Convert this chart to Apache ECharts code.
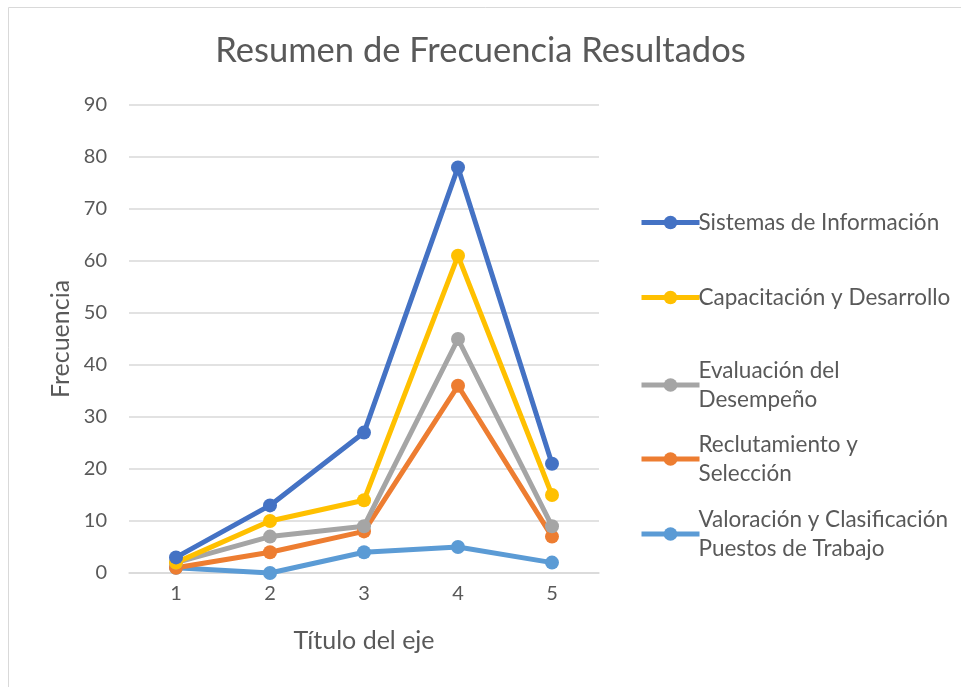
<!DOCTYPE html>
<html><head><meta charset="utf-8">
<script src="https://cdn.jsdelivr.net/npm/echarts@6/dist/echarts.min.js"></script>
<style>html,body{margin:0;padding:0;background:#fff}#c{width:961px;height:687px}</style>
</head><body><div id="c"></div>
<script>
const categories = ['1','2','3','4','5'];
const seriesNames = ['Sistemas de Información','Capacitación y Desarrollo','Evaluación del\nDesempeño','Reclutamiento y\nSelección','Valoración y Clasificación\nPuestos de Trabajo'];
const sistemas = [3, 13, 27, 78, 21];
const capacitacion = [2, 10, 14, 61, 15];
const evaluacion = [2, 7, 9, 45, 9];
const reclutamiento = [1, 4, 8, 36, 7];
const valoracion = [1, 0, 4, 5, 2];
const colors = ['#4472C4','#FFC000','#A5A5A5','#ED7D31','#5B9BD5'];
const values = [sistemas, capacitacion, evaluacion, reclutamiento, valoracion];
const legendTops = [203, 278, 351, 425, 500];

const font = "Lato, 'Open Sans', sans-serif";
const chart = echarts.init(document.getElementById('c'));
const series = [];
for (let i = values.length - 1; i >= 0; i--) {
  series.push({
    name: seriesNames[i], type: 'line', data: values[i],
    symbol: 'circle', symbolSize: 14,
    lineStyle: {width: 5, color: colors[i]},
    itemStyle: {color: colors[i]},
    emphasis: {disabled: true}, animation: false
  });
}
chart.setOption({
  animation: false,
  title: {text: 'Resumen de Frecuencia Resultados', left: 'center', top: 28,
    textStyle: {fontFamily: font, fontSize: 34.5, fontWeight: 'normal', color: '#595959'}},
  graphic: [{type: 'rect', shape: {x: 8.5, y: 7.5, width: 960, height: 690},
    style: {fill: null, stroke: '#D9D9D9', lineWidth: 1}, silent: true}],
  legend: seriesNames.map((n, i) => ({
    data: [n], orient: 'vertical', left: 634, top: legendTops[i],
    itemWidth: 58, itemHeight: 17, itemGap: 0,
    lineStyle: {width: 5},
    textStyle: {fontFamily: font, fontSize: 22.5, color: '#595959', lineHeight: 29, padding: [0,0,0,-6]},
    selectedMode: false
  })),
  grid: {left: 129, right: 362, top: 105, bottom: 114},
  xAxis: {type: 'category', data: categories, boundaryGap: true,
    name: 'Título del eje', nameLocation: 'middle', nameGap: 55,
    nameTextStyle: {fontFamily: font, fontSize: 25, color: '#595959'},
    axisLine: {lineStyle: {color: '#D9D9D9', width: 1.5}},
    axisTick: {show: false},
    axisLabel: {fontFamily: font, fontSize: 20, color: '#595959', margin: 11}},
  yAxis: {type: 'value', min: 0, max: 90, interval: 10,
    name: 'Frecuencia', nameLocation: 'middle', nameGap: 56,
    nameTextStyle: {fontFamily: font, fontSize: 25, color: '#595959'},
    axisLine: {show: false}, axisTick: {show: false},
    splitLine: {lineStyle: {color: '#D9D9D9', width: 1.5}},
    axisLabel: {fontFamily: font, fontSize: 20, color: '#595959', margin: 22}},
  series: series
});
</script></body></html>
